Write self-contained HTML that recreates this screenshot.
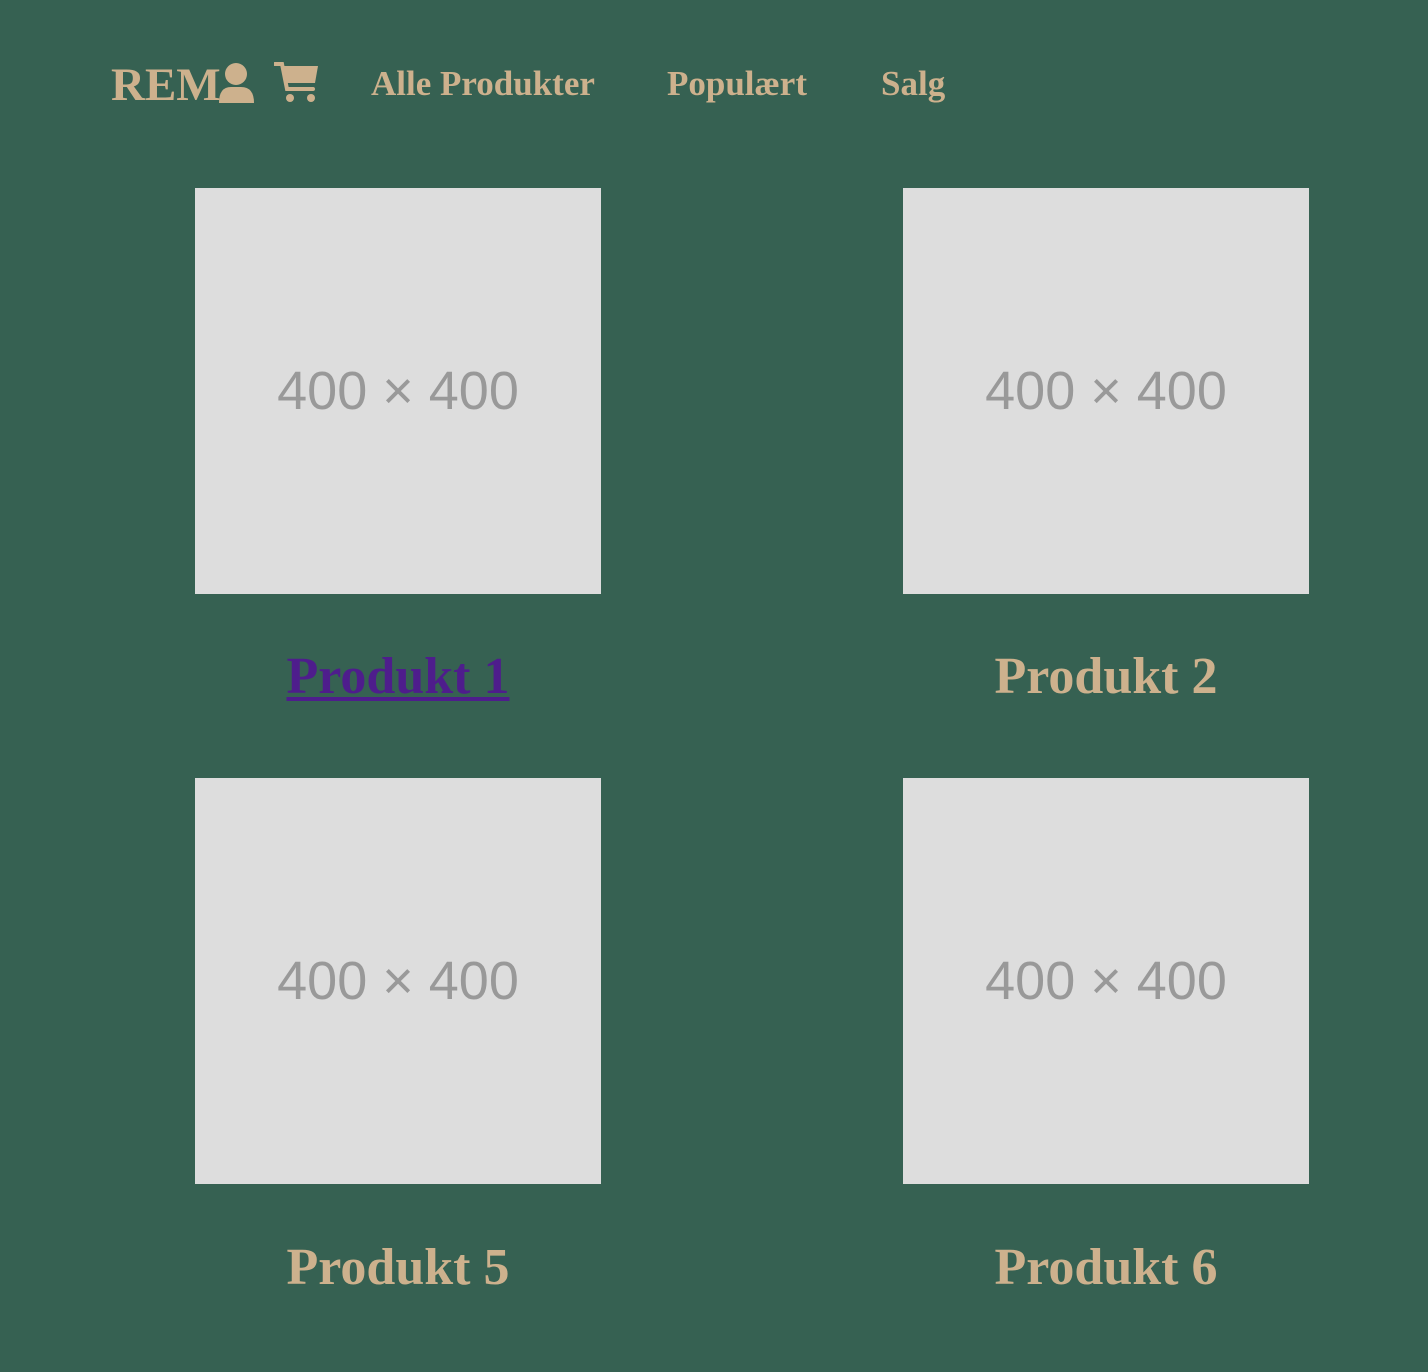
<!DOCTYPE html>
<html><head><meta charset="utf-8"><style>
body{margin:0;width:1428px;height:1372px;background:#366152;position:relative;overflow:hidden;font-family:"Liberation Serif",serif;font-weight:bold;color:#cdb18d}
.a{position:absolute;white-space:nowrap}
.img{position:absolute;width:406px;height:406px;background:#dddddd;display:flex;align-items:center;justify-content:center;font-family:"Liberation Sans",sans-serif;font-weight:normal;font-size:54px;color:#999}
.lbl{position:absolute;width:406px;text-align:center;font-size:52px;line-height:60px}
</style></head><body>
<div class="a" style="left:111px;top:57px;font-size:47px;line-height:56px">REM</div>
<svg class="a" style="left:218px;top:62px" width="38" height="42" viewBox="0 0 38 42"><circle cx="18" cy="12" r="11" fill="#cdb18d"/><path d="M1 41 Q1 25 13 25 L23 25 Q36 25 36 41 Z" fill="#cdb18d"/></svg>
<svg class="a" style="left:274px;top:61px" width="46" height="42" viewBox="0 0 46 42"><path d="M1 3 L8 3 L13 28 L39 28" stroke="#cdb18d" stroke-width="4" fill="none" stroke-linecap="round"/><path d="M9 5 L44 5 L41 22 L12 22 Z" fill="#cdb18d"/><circle cx="16" cy="37" r="4" fill="#cdb18d"/><circle cx="37" cy="37" r="4" fill="#cdb18d"/></svg>
<div class="a" style="left:371px;top:64px;font-size:35px;line-height:40px">Alle Produkter</div>
<div class="a" style="left:667px;top:64px;font-size:35px;line-height:40px">Populært</div>
<div class="a" style="left:881px;top:64px;font-size:35px;line-height:40px">Salg</div>
<div class="img" style="left:195px;top:188px">400 × 400</div>
<div class="img" style="left:903px;top:188px">400 × 400</div>
<div class="img" style="left:195px;top:778px">400 × 400</div>
<div class="img" style="left:903px;top:778px">400 × 400</div>
<div class="lbl" style="left:195px;top:647px"><span style="color:#4e1d8c;text-decoration:underline;text-decoration-thickness:4px;text-underline-offset:4px">Produkt 1</span></div>
<div class="lbl" style="left:903px;top:647px">Produkt 2</div>
<div class="lbl" style="left:195px;top:1238px">Produkt 5</div>
<div class="lbl" style="left:903px;top:1238px">Produkt 6</div>
</body></html>
